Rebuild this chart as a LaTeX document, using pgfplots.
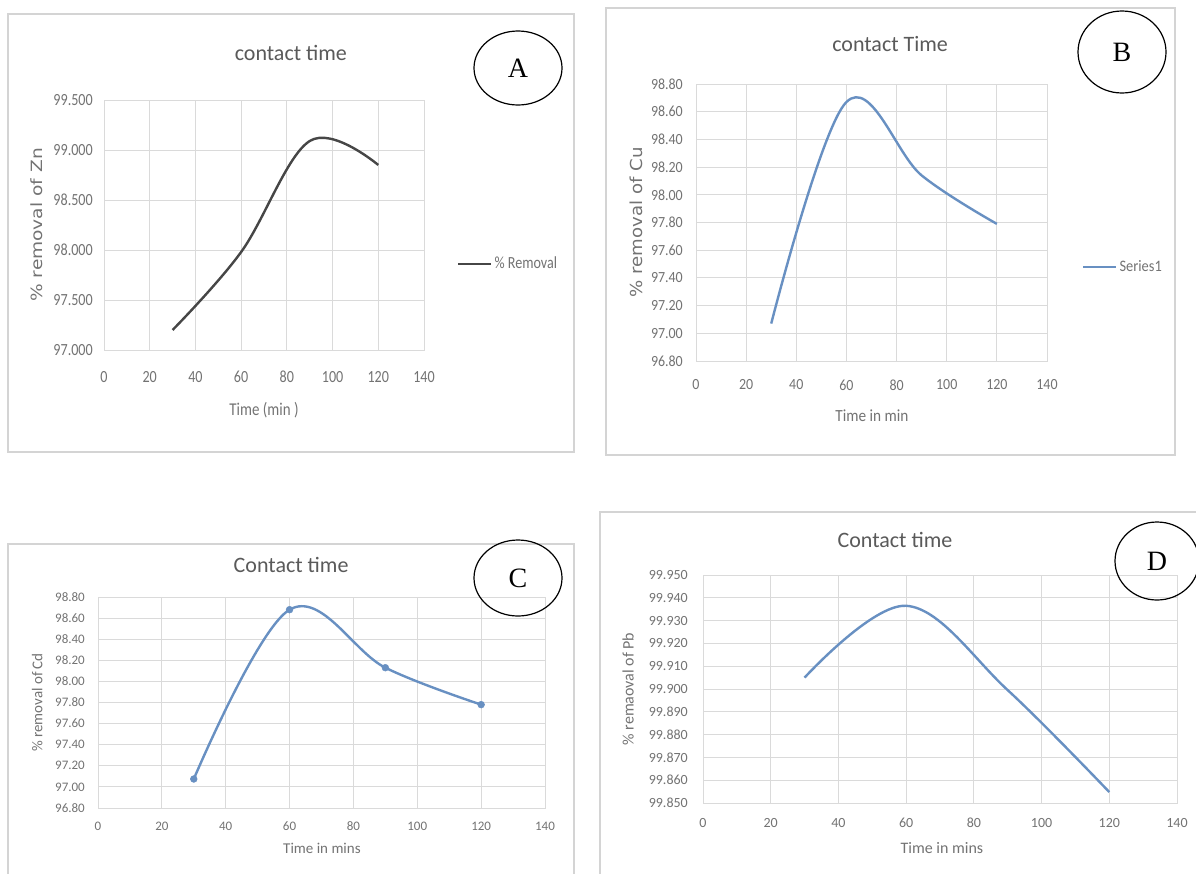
\documentclass[border=0pt]{standalone}
\usepackage{pgfplots}
\pgfplotsset{compat=1.18}
\usepackage{fontspec}
\setmainfont{Carlito}
\newfontfamily\seriffont{Liberation Serif}
\newfontfamily\condA[FakeStretch=0.83]{Carlito}
\newfontfamily\condB[FakeStretch=0.9]{Carlito}
\newfontfamily\wideA[FakeStretch=1.2]{DejaVu Sans}
\newfontfamily\wideB[FakeStretch=1.1]{DejaVu Sans}
\usetikzlibrary{shapes.geometric}
\definecolor{gridgray}{HTML}{DADADA}
\definecolor{lblgray}{HTML}{737373}
\definecolor{ttlgray}{HTML}{5A5A5A}
\definecolor{framegray}{HTML}{D4D4D4}
\definecolor{darkline}{HTML}{464646}
\definecolor{blueline}{HTML}{6890C2}
\newcommand{\fs}[1]{\fontsize{#1}{#1}\selectfont}

\pgfplotsset{
  excel/.style={
    scale only axis,
    xmin=0, xmax=140,
    xtick={0,20,40,60,80,100,120,140},
    grid=major,
    grid style={draw=gridgray, line width=1pt},
    axis line style={draw=gridgray, line width=1pt},
    major tick length=0pt,
    tick label style={text=lblgray, font=\fs{14}, inner sep=0pt},
    /pgf/number format/assume math mode=true,
    title style={text=ttlgray, font=\fs{22}, anchor=center},
    xlabel style={text=lblgray, anchor=center},
    ylabel style={text=lblgray, anchor=center},
    clip=false,
    legend style={draw=none, fill=none, inner sep=0pt, anchor=west, text=lblgray, font=\fs{14}},
    legend image code/.code={\draw[#1] (0pt,0pt) -- (33pt,0pt);},
  },
  smoothline/.style={line width=2.4pt, smooth, tension=0.6},
}

\begin{document}
\begin{tikzpicture}[x=1pt,y=1pt]
\useasboundingbox (0,0) rectangle (1196,-873);
\fill[white] (0,0) rectangle (1196,-873);
% chart area frames
\draw[framegray, line width=1.2pt] (8,-14) rectangle (574,-452);
\draw[framegray, line width=1.2pt] (606,-8) rectangle (1175,-455);
\draw[framegray, line width=1.2pt] (8,-544) rectangle (574,-885);
\draw[framegray, line width=1.2pt] (600,-512) rectangle (1210,-885);

% ---------------- Panel A ----------------
\begin{axis}[excel, at={(104pt,-350pt)}, anchor=south west,
  width=320pt, height=250pt,
  ymin=97, ymax=99.5, ytick={97,97.5,98,98.5,99,99.5},
  tick label style={font=\condA\fs{17}},
  xticklabel style={anchor=center, yshift=-27pt},
  yticklabel style={anchor=east, xshift=-11pt, /pgf/number format/fixed, /pgf/number format/fixed zerofill, /pgf/number format/precision=3},
  title={contact time}, title style={at={(axis description cs:0.584,1.164)}},
  xlabel={Time (min )}, xlabel style={font=\condA\fs{18}, at={(axis description cs:0.5,-0.24)}},
  ylabel={\% removal of Zn}, ylabel style={font=\wideA\fs{15.5}, at={(axis description cs:-0.209,0.5)}},
  legend style={at={(axis description cs:1.103,0.345)}, font=\condA\fs{17}},
]
\addplot[darkline, smoothline] coordinates {(30,97.2) (60,97.98) (90,99.09) (120,98.85)};
\addlegendentry{\% Removal}
\end{axis}

% ---------------- Panel B ----------------
\begin{axis}[excel, at={(696pt,-361pt)}, anchor=south west,
  width=351pt, height=277pt,
  ymin=96.8, ymax=98.8, ytick={96.8,97,97.2,97.4,97.6,97.8,98,98.2,98.4,98.6,98.8},
  tick label style={font=\condB\fs{15.5}},
  xticklabel style={anchor=center, yshift=-24pt},
  yticklabel style={anchor=east, xshift=-13pt, /pgf/number format/fixed, /pgf/number format/fixed zerofill, /pgf/number format/precision=2},
  title={contact Time}, title style={at={(axis description cs:0.553,1.123)}},
  xlabel={Time in min}, xlabel style={font=\condB\fs{17}, at={(axis description cs:0.501,-0.199)}},
  ylabel={\% removal of Cu}, ylabel style={font=\wideB\fs{16.5}, at={(axis description cs:-0.171,0.5)}},
  legend style={at={(axis description cs:1.0997,0.339)}, font=\condB\fs{16}},
]
\addplot[blueline, smoothline] coordinates {(30,97.07) (60,98.67) (90,98.14) (120,97.79)};
\addlegendentry{Series1}
\end{axis}

% ---------------- Panel C ----------------
\begin{axis}[excel, at={(98pt,-808pt)}, anchor=south west,
  width=447pt, height=211pt,
  ymin=96.8, ymax=98.8, ytick={96.8,97,97.2,97.4,97.6,97.8,98,98.2,98.4,98.6,98.8},
  tick label style={font=\fs{13}},
  xticklabel style={anchor=center, yshift=-18pt},
  yticklabel style={anchor=east, xshift=-13pt, /pgf/number format/fixed, /pgf/number format/fixed zerofill, /pgf/number format/precision=2},
  title={Contact time}, title style={at={(axis description cs:0.432,1.123)}},
  xlabel={Time in mins}, xlabel style={font=\fs{15}, at={(axis description cs:0.501,-0.19)}},
  ylabel={\% removal of Cd}, ylabel style={font=\fs{15}, at={(axis description cs:-0.136,0.5)}},
]
\addplot[blueline, smoothline, mark=*, mark size=3.4pt, mark options={solid, fill=blueline, line width=0.5pt}] coordinates {(30,97.075) (60,98.68) (90,98.13) (120,97.78)};
\end{axis}

% ---------------- Panel D ----------------
\begin{axis}[excel, at={(703pt,-803pt)}, anchor=south west,
  width=474pt, height=228pt,
  ymin=99.85, ymax=99.95, ytick={99.85,99.86,99.87,99.88,99.89,99.9,99.91,99.92,99.93,99.94,99.95},
  xticklabel style={anchor=center, yshift=-20pt},
  yticklabel style={anchor=east, xshift=-15pt, /pgf/number format/fixed, /pgf/number format/fixed zerofill, /pgf/number format/precision=3},
  title={Contact time}, title style={at={(axis description cs:0.405,1.127)}},
  xlabel={Time in mins}, xlabel style={font=\fs{16}, at={(axis description cs:0.504,-0.197)}},
  ylabel={\% remaoval of Pb}, ylabel style={font=\fs{16}, at={(axis description cs:-0.158,0.5)}},
]
\addplot[blueline, smoothline] coordinates {(30,99.905) (60,99.9365) (90,99.8995) (120,99.8548)};
\end{axis}

% panel letters
\node[ellipse, draw=black, line width=1.2pt, minimum width=88pt, minimum height=74pt, font=\seriffont\fs{28}] at (518,-68) {A};
\node[ellipse, draw=black, line width=1.2pt, minimum width=88pt, minimum height=82pt, font=\seriffont\fs{28}] at (1122,-52) {B};
\node[ellipse, draw=black, line width=1.2pt, minimum width=88pt, minimum height=76pt, font=\seriffont\fs{28}] at (518,-578) {C};
\node[ellipse, draw=black, line width=1.2pt, minimum width=84pt, minimum height=78pt, font=\seriffont\fs{28}] at (1157,-561) {D};
\end{tikzpicture}
\end{document}
